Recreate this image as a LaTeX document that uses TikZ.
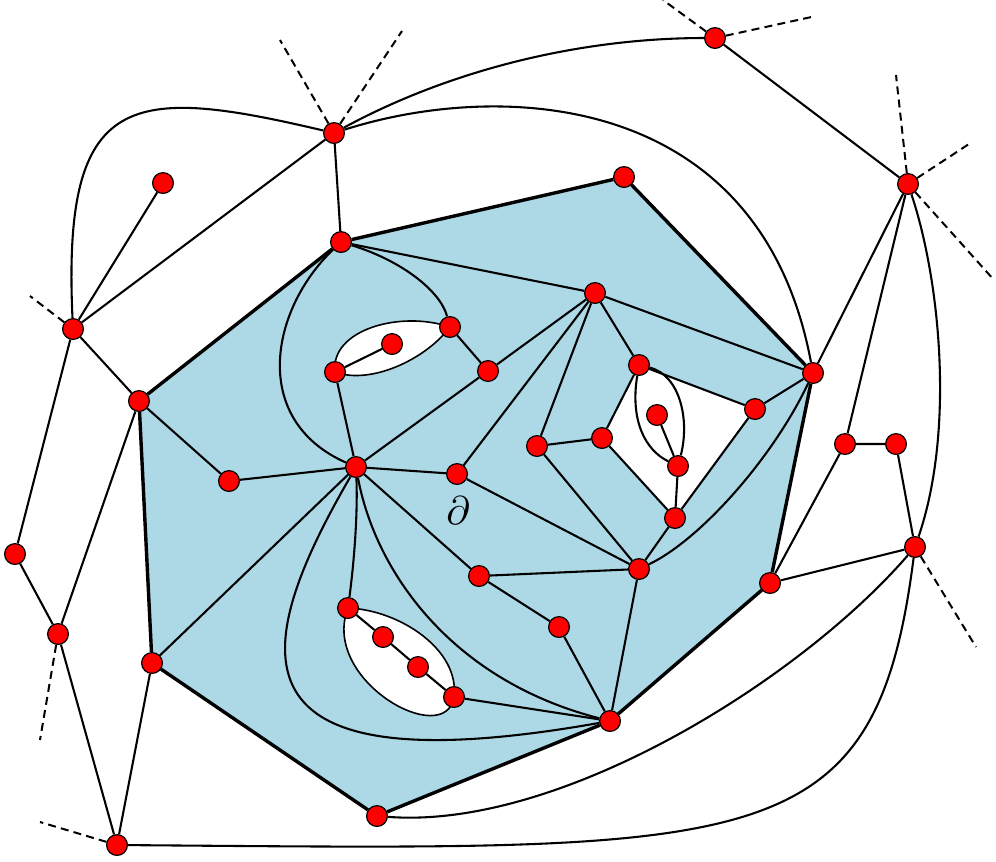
\documentclass[tikz,border=0pt]{standalone}
\usepackage{amsmath,amssymb}
\usepackage{tikz}
\usetikzlibrary{backgrounds}
\definecolor{lblue}{RGB}{173,216,230}

\begin{document}
\begin{tikzpicture}[x=0.25pt,y=-0.25pt,line width=0.52pt]
\tikzset{vtx/.style={circle,draw,fill=red,inner sep=0pt,minimum size=5.2pt,line width=0.3pt},
         bd/.style={line width=0.85pt},
         dsh/.style={line width=0.5pt,dash pattern=on 2pt off 1.3pt},
         hole/.style={draw,fill=white},
         lab/.style={draw=none,fill=none,inner sep=0pt}}
\useasboundingbox (0,0) rectangle (996,861);
% outer vertices
\node[vtx] (t) at (334,133) {};
\node[vtx] (tr) at (715,38) {};
\node[vtx] (r) at (908,184) {};
\node[vtx] (l) at (73,329) {};
\node[vtx] (lf) at (163,183) {};
\node[vtx] (l2) at (15,554) {};
\node[vtx] (l3) at (58,634) {};
\node[vtx] (bl) at (117,845) {};
\node[vtx] (r2) at (915,547) {};
\node[vtx] (r3) at (845,444) {};
\node[vtx] (r4) at (896,444) {};
% boundary polygon
\node[vtx] (p1) at (341,242) {};
\node[vtx] (p2) at (624,177) {};
\node[vtx] (p3) at (813,373) {};
\node[vtx] (p4) at (770,583) {};
\node[vtx] (p5) at (610,721) {};
\node[vtx] (p6) at (377,816) {};
\node[vtx] (p7) at (152,663) {};
\node[vtx] (p8) at (139,401) {};
% inside
\node[vtx] (q) at (356,467) {};
\node[vtx] (h) at (595,293) {};
\node[vtx] (s1) at (450,327) {};
\node[vtx] (s2) at (488,371) {};
\node[vtx] (e1) at (335,372) {};
\node[vtx] (e2) at (392,344) {};
\node[vtx] (u) at (229,481) {};
\node[vtx] (v) at (457,474) {};
\node[vtx] (w1) at (537,446) {};
\node[vtx] (w2) at (602,438) {};
\node[vtx] (g1) at (639,365) {};
\node[vtx] (g2) at (755,409) {};
\node[vtx] (g3) at (657,415) {};
\node[vtx] (g4) at (678,466) {};
\node[vtx] (g5) at (675,518) {};
\node[vtx] (m) at (639,569) {};
\node[vtx] (c1) at (479,576) {};
\node[vtx] (c2) at (559,627) {};
\node[vtx] (d1) at (348,608) {};
\node[vtx] (d2) at (383,637) {};
\node[vtx] (d3) at (418,667) {};
\node[vtx] (d4) at (454,697) {};
\node[lab] (dl) at (458,511) {$\partial$};
% free ends
\coordinate (ta) at (280,40);
\coordinate (tb) at (402,31);
\coordinate (la) at (30,296);
\coordinate (tra) at (663,0);
\coordinate (trb) at (816,16);
\coordinate (ra) at (896,75);
\coordinate (rb) at (972,142);
\coordinate (rc) at (994,280);
\coordinate (r2a) at (976,647);
\coordinate (l3a) at (40,740);
\coordinate (bla) at (40,822);
\begin{scope}[on background layer]
\fill[lblue] (p1.center)--(p2.center)--(p3.center)--(p4.center)--(p5.center)--(p6.center)--(p7.center)--(p8.center)--cycle;
\fill[white] (g1.center)--(g2.center)--(g5.center)--(w2.center)--cycle;
% holes
\path[hole] (e1.center) .. controls (330,330) and (400,310) .. (s1.center) .. controls (425,360) and (370,385) .. (e1.center);
\path[hole] (d1.center) .. controls (400,610) and (460,650) .. (d4.center) .. controls (445,750) and (320,680) .. (d1.center);
\end{scope}
\draw[bd] (p1)--(p2)--(p3)--(p4)--(p5)--(p6)--(p7)--(p8)--(p1);
\draw (t)--(p1);
\draw (t)--(l)--(lf);
\draw (l)--(p8);
\draw (l)--(l2)--(l3)--(bl)--(p7);
\draw (l3)--(p8);
\draw (tr)--(r)--(p3);
\draw (r)--(r3)--(r4)--(r2)--(p4)--(r3);
\draw (p1)--(h)--(s2)--(s1);
\draw (s2)--(q)--(e1)--(e2);
\draw (p8)--(u)--(q)--(v)--(h);
\draw (q)--(p7);
\draw (q)--(c1)--(c2)--(p5);
\draw (c1)--(m)--(p5);
\draw (v)--(m);
\draw (d1)--(d2)--(d3)--(d4)--(p5);
\draw (h)--(w1)--(w2)--(g1)--(h);
\draw (w1)--(m)--(g5)--(w2);
\draw (h)--(p3)--(g2)--(g1);
\draw (g2)--(g5)--(g4)--(g3);
% curves
\draw (t) .. controls (450,70) and (580,38) .. (tr);
\draw (t) .. controls (500,80) and (760,90) .. (p3);
\draw (t) .. controls (130,85) and (62,90) .. (l);
\draw (p1) .. controls (400,260) and (440,290) .. (s1);
\draw (p1) .. controls (270,310) and (250,420) .. (q);
\draw (q) .. controls (358,520) and (353,570) .. (d1);
\draw (q) .. controls (375,570) and (450,680) .. (p5);
\draw (q) .. controls (250,650) and (220,790) .. (p5);
\draw (m) .. controls (700,540) and (773,458) .. (p3);
\draw (r) .. controls (940,280) and (955,430) .. (r2);
\draw (r2) .. controls (875,860) and (760,850) .. (bl);
\draw (r2) .. controls (800,680) and (560,830) .. (p6);
\draw (g1) .. controls (630,420) and (645,450) .. (g4);
\draw (g1) .. controls (680,375) and (690,420) .. (g4);
% half edges
\draw[dsh] (t)--(ta); \draw[dsh] (t)--(tb);
\draw[dsh] (l)--(la);
\draw[dsh] (tr)--(tra); \draw[dsh] (tr)--(trb);
\draw[dsh] (r)--(ra); \draw[dsh] (r)--(rb); \draw[dsh] (r)--(rc);
\draw[dsh] (r2)--(r2a);
\draw[dsh] (l3)--(l3a);
\draw[dsh] (bl)--(bla);
\end{tikzpicture}
\end{document}
